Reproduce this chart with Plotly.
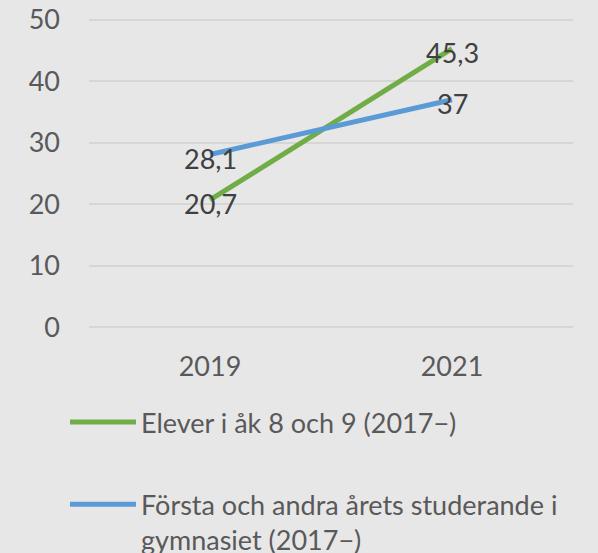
import plotly.graph_objects as go

years = ["2019", "2021"]
elever = [20.7, 45.3]
gymnasiet = [28.1, 37]
elever_labels = ["20,7", "45,3"]
gymnasiet_labels = ["28,1", "37"]
series_names = ["Elever i åk 8 och 9 (2017−)",
                "Första och andra årets studerande i<br>gymnasiet (2017−)"]
y_ticks = [0, 10, 20, 30, 40, 50]

FONT = "Lato"
FS = 27
BG = "#e7e7e8"

fig = go.Figure()
fig.add_trace(go.Scatter(
    x=years, y=elever, mode="lines", name=series_names[0],
    line=dict(color="#70ad47", width=5), legendgroup="a",
))
fig.add_trace(go.Scatter(
    x=years, y=gymnasiet, mode="lines", name=series_names[1],
    line=dict(color="#5b9bd5", width=5), legendgroup="b",
))
# data labels, placed at the category index of each year on the category axis
for ys, labels in ((elever, elever_labels), (gymnasiet, gymnasiet_labels)):
    for i, (yv, lab) in enumerate(zip(ys, labels)):
        fig.add_annotation(x=i, y=yv, xref="x", yref="y", text=lab,
                           showarrow=False, yshift=-4,
                           font=dict(family=FONT, size=FS, color="#404040"))

PLOT_TOP = 18
PLOT_BOTTOM = 329
PLOT_H = PLOT_BOTTOM - PLOT_TOP

fig.update_layout(
    width=598, height=553,
    paper_bgcolor=BG, plot_bgcolor=BG,
    margin=dict(l=89, r=25, t=PLOT_TOP, b=553 - PLOT_BOTTOM, autoexpand=False),
    font=dict(family=FONT, size=FS, color="#595959"),
    showlegend=True,
    legend=dict(
        xref="paper", yref="paper",
        x=(65 - 89) / 484, y=-(398 - PLOT_BOTTOM) / PLOT_H,
        xanchor="left", yanchor="top",
        orientation="v", tracegroupgap=44, valign="top", itemwidth=66,
        font=dict(family=FONT, size=FS, color="#595959"),
        bgcolor="rgba(0,0,0,0)",
    ),
    xaxis=dict(
        type="category", range=[-0.5, 1.5], showgrid=False, zeroline=False,
        showline=False, ticks="", ticklabelstandoff=19,
        tickfont=dict(family=FONT, size=FS, color="#595959"),
    ),
    yaxis=dict(
        range=[-0.3, 50.3], tickvals=y_ticks, showgrid=True,
        gridcolor="#d6d6d7", gridwidth=1.5, zeroline=False, showline=False,
        ticks="", ticklabelstandoff=28,
        tickfont=dict(family=FONT, size=FS, color="#595959"),
    ),
)
fig.write_html("out.html",
               config={"displayModeBar": False},
               post_script="document.body.style.margin='0';")
